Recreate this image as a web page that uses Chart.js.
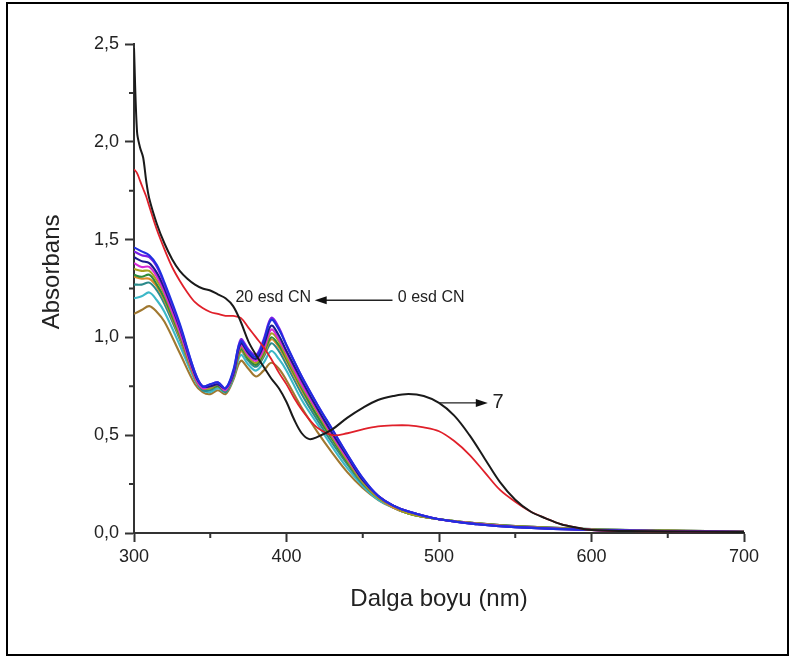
<!DOCTYPE html>
<html>
<head>
<meta charset="utf-8">
<script src="https://cdn.jsdelivr.net/npm/chart.js@4.4.0/dist/chart.umd.min.js"></script>
<style>
  html, body { margin: 0; padding: 0; background: #fff; }
  #wrap { position: relative; width: 795px; height: 657px; }
  #frame { position: absolute; left: 6px; top: 2px; width: 779px; height: 650px; border: 2px solid #000; pointer-events: none; }
  canvas { position: absolute; left: 0; top: 0; }
</style>
</head>
<body>
<div id="wrap">
  <canvas id="chart" width="795" height="657"></canvas>
  <div id="frame"></div>
</div>
<script>
// wavelengths (nm)
const wlBunch = [300, 305, 310, 315, 320, 330, 340, 345, 350, 355, 360, 365, 370, 375, 380, 385, 390, 395, 400, 410, 420, 430, 440, 450, 460, 470, 480, 500, 525, 550, 600, 650, 700];
const wlMain = [300, 302, 304, 306, 308, 310, 315, 320, 325, 330, 335, 340, 345, 350, 355, 360, 365, 370, 375, 380, 385, 390, 395, 400, 405, 410, 415, 420, 430, 440, 450, 460, 470, 480, 490, 500, 510, 520, 530, 540, 550, 560, 570, 580, 590, 600, 625, 650, 700];

// absorbance
const absBlack = [2.48, 2.05, 1.97, 1.92, 1.80, 1.71, 1.58, 1.48, 1.40, 1.34, 1.30, 1.27, 1.25, 1.24, 1.22, 1.20, 1.16, 1.08, 0.98, 0.91, 0.85, 0.79, 0.74, 0.67, 0.58, 0.51, 0.48, 0.49, 0.53, 0.59, 0.64, 0.68, 0.70, 0.71, 0.70, 0.665, 0.60, 0.50, 0.38, 0.26, 0.17, 0.11, 0.075, 0.045, 0.028, 0.015, 0.01, 0.008, 0.005];
const absRed = [1.86, 1.84, 1.80, 1.76, 1.72, 1.67, 1.55, 1.45, 1.36, 1.29, 1.23, 1.18, 1.15, 1.13, 1.12, 1.11, 1.11, 1.10, 1.05, 1.00, 0.95, 0.89, 0.82, 0.76, 0.69, 0.63, 0.58, 0.54, 0.50, 0.51, 0.53, 0.545, 0.55, 0.55, 0.54, 0.52, 0.47, 0.40, 0.31, 0.22, 0.16, 0.11, 0.075, 0.045, 0.028, 0.015, 0.01, 0.008, 0.005];

const absBlue = [1.46, 1.44, 1.42, 1.37, 1.28, 1.07, 0.82, 0.75, 0.76, 0.77, 0.74, 0.83, 0.98, 0.93, 0.90, 0.98, 1.09, 1.04, 0.96, 0.80, 0.66, 0.53, 0.40, 0.28, 0.19, 0.14, 0.11, 0.07, 0.045, 0.03, 0.015, 0.01, 0.005];
const absViolet = [1.44, 1.42, 1.41, 1.36, 1.27, 1.06, 0.82, 0.75, 0.76, 0.77, 0.74, 0.82, 0.99, 0.94, 0.91, 0.99, 1.10, 1.05, 0.96, 0.80, 0.66, 0.53, 0.40, 0.28, 0.19, 0.14, 0.11, 0.07, 0.045, 0.03, 0.015, 0.01, 0.005];
const absNavy = [1.41, 1.39, 1.38, 1.33, 1.25, 1.05, 0.81, 0.75, 0.75, 0.76, 0.74, 0.81, 0.97, 0.92, 0.89, 0.96, 1.06, 1.01, 0.93, 0.78, 0.64, 0.51, 0.39, 0.27, 0.19, 0.14, 0.11, 0.07, 0.045, 0.03, 0.015, 0.01, 0.006];
const absMagenta = [1.38, 1.36, 1.36, 1.31, 1.23, 1.03, 0.80, 0.74, 0.75, 0.76, 0.73, 0.81, 0.96, 0.91, 0.88, 0.94, 1.04, 0.99, 0.92, 0.76, 0.63, 0.50, 0.38, 0.27, 0.19, 0.14, 0.11, 0.07, 0.047, 0.032, 0.016, 0.01, 0.006];
const absOlive = [1.35, 1.34, 1.34, 1.29, 1.22, 1.02, 0.80, 0.74, 0.74, 0.76, 0.73, 0.81, 0.95, 0.90, 0.87, 0.93, 1.02, 0.98, 0.90, 0.75, 0.62, 0.49, 0.37, 0.26, 0.18, 0.14, 0.10, 0.07, 0.048, 0.033, 0.017, 0.011, 0.007];
const absGreen = [1.32, 1.31, 1.32, 1.27, 1.20, 1.01, 0.80, 0.74, 0.74, 0.75, 0.73, 0.80, 0.94, 0.89, 0.86, 0.92, 1.00, 0.96, 0.89, 0.74, 0.60, 0.48, 0.36, 0.26, 0.18, 0.14, 0.10, 0.07, 0.048, 0.034, 0.018, 0.011, 0.007];
const absOrange = [1.31, 1.30, 1.30, 1.26, 1.19, 1.00, 0.79, 0.74, 0.74, 0.75, 0.73, 0.80, 0.93, 0.89, 0.86, 0.91, 0.99, 0.95, 0.88, 0.73, 0.60, 0.48, 0.36, 0.26, 0.18, 0.13, 0.10, 0.07, 0.05, 0.035, 0.019, 0.012, 0.008];
const absDarkCyan = [1.27, 1.27, 1.28, 1.24, 1.17, 0.99, 0.79, 0.73, 0.73, 0.75, 0.72, 0.80, 0.93, 0.88, 0.85, 0.90, 0.97, 0.93, 0.86, 0.71, 0.58, 0.46, 0.35, 0.25, 0.18, 0.13, 0.10, 0.07, 0.05, 0.035, 0.019, 0.012, 0.008];
const absCyan = [1.20, 1.21, 1.23, 1.19, 1.13, 0.96, 0.78, 0.73, 0.72, 0.74, 0.72, 0.79, 0.91, 0.86, 0.83, 0.87, 0.93, 0.89, 0.83, 0.68, 0.56, 0.44, 0.33, 0.24, 0.17, 0.13, 0.10, 0.07, 0.05, 0.035, 0.02, 0.012, 0.008];
const absBrown = [1.12, 1.14, 1.16, 1.13, 1.08, 0.92, 0.76, 0.72, 0.71, 0.73, 0.71, 0.78, 0.88, 0.84, 0.80, 0.83, 0.87, 0.84, 0.78, 0.64, 0.52, 0.41, 0.31, 0.23, 0.17, 0.13, 0.10, 0.07, 0.05, 0.035, 0.02, 0.012, 0.008];

// axis ticks
const xTicks = [300, 400, 500, 600, 700];
const xMinorTicks = [350, 450, 550, 650];
const yTicks = [0, 0.5, 1.0, 1.5, 2.0, 2.5];
const yMinorTicks = [0.25, 0.75, 1.25, 1.75, 2.25];

const toPoints = (xs, ys) => ys.map((y, i) => ({ x: xs[i], y: y }));

const bunch = [
  [absBlue, "#1f2fe0"],
  [absViolet, "#7a1fe6"],
  [absNavy, "#1a1a8c"],
  [absMagenta, "#d62ad6"],
  [absOlive, "#a8a020"],
  [absGreen, "#2e8b3a"],
  [absOrange, "#d98a2b"],
  [absDarkCyan, "#2a8a8a"],
  [absCyan, "#3cb8c8"],
  [absBrown, "#a07830"],
];

const datasets = [
  { data: toPoints(wlMain, absBlack), borderColor: "#1a1a1a", borderWidth: 2 },
  { data: toPoints(wlMain, absRed), borderColor: "#e0202a", borderWidth: 1.8 },
].concat(bunch.map(([vals, color]) => ({
  data: toPoints(wlBunch, vals),
  borderColor: color,
  borderWidth: 2.1,
})));

const fontFamily = "'Liberation Sans', Arial, sans-serif";

// minor ticks, y title and annotation arrows
const extrasPlugin = {
  id: "extras",
  afterDraw(chart) {
    const { ctx } = chart;
    const xs = chart.scales.x;
    const ys = chart.scales.y;
    const x0 = xs.getPixelForValue(300);
    const y0 = ys.getPixelForValue(0);
    ctx.save();
    ctx.strokeStyle = "#333";
    ctx.lineWidth = 2;
    ctx.beginPath();
    xMinorTicks.forEach((v) => {
      const px = xs.getPixelForValue(v);
      ctx.moveTo(px, y0);
      ctx.lineTo(px, y0 + 5);
    });
    yMinorTicks.forEach((v) => {
      const py = ys.getPixelForValue(v);
      ctx.moveTo(x0, py);
      ctx.lineTo(x0 - 5, py);
    });
    ctx.stroke();

    // y axis title
    ctx.save();
    ctx.translate(52, ys.getPixelForValue(1.335));
    ctx.rotate(-Math.PI / 2);
    ctx.fillStyle = "#222";
    ctx.font = "24px " + fontFamily;
    ctx.textAlign = "center";
    ctx.textBaseline = "middle";
    ctx.fillText("Absorbans", 0, 0);
    ctx.restore();

    const arrow = (fromX, toX, yv) => {
      const a = xs.getPixelForValue(fromX);
      const b = xs.getPixelForValue(toX);
      const py = ys.getPixelForValue(yv);
      const dir = b > a ? 1 : -1;
      ctx.strokeStyle = "#222";
      ctx.lineWidth = 1.3;
      ctx.beginPath();
      ctx.moveTo(a, py);
      ctx.lineTo(b - dir * 6, py);
      ctx.stroke();
      ctx.fillStyle = "#111";
      ctx.beginPath();
      ctx.moveTo(b, py);
      ctx.lineTo(b - dir * 12, py - 4);
      ctx.lineTo(b - dir * 12, py + 4);
      ctx.closePath();
      ctx.fill();
    };

    ctx.fillStyle = "#222";
    ctx.font = "16px " + fontFamily;
    ctx.textBaseline = "middle";
    ctx.textAlign = "left";
    ctx.fillText("20 esd CN", xs.getPixelForValue(366.5), ys.getPixelForValue(1.205));
    ctx.fillText("0 esd CN", xs.getPixelForValue(473), ys.getPixelForValue(1.205));
    arrow(469.5, 418.5, 1.19);

    arrow(500, 532, 0.665);
    ctx.fillStyle = "#222";
    ctx.font = "20px " + fontFamily;
    ctx.fillText("7", xs.getPixelForValue(535), ys.getPixelForValue(0.665));
    ctx.restore();
  },
};

const axisFont = { family: fontFamily, size: 18 };
const titleFont = { family: fontFamily, size: 24 };

new Chart(document.getElementById("chart").getContext("2d"), {
  type: "line",
  data: { datasets: datasets },
  options: {
    responsive: false,
    animation: false,
    devicePixelRatio: 1,
    layout: { padding: { left: 38, top: 44, right: 51, bottom: 43 } },
    elements: {
      point: { radius: 0 },
      line: { tension: 0.35, fill: false },
    },
    plugins: { legend: { display: false }, tooltip: { enabled: false } },
    scales: {
      x: {
        type: "linear",
        min: 300,
        max: 700,
        afterBuildTicks: (s) => { s.ticks = xTicks.map((v) => ({ value: v })); },
        afterFit: (s) => { s.height = 81; },
        ticks: { font: axisFont, color: "#222", padding: 4, maxRotation: 0, autoSkip: false },
        grid: { drawOnChartArea: false, tickLength: 9, color: "#333", tickWidth: 2 },
        border: { color: "#333", width: 2 },
        title: { display: true, text: "Dalga boyu (nm)", font: titleFont, color: "#222", padding: 0 },
      },
      y: {
        min: 0,
        max: 2.5,
        afterBuildTicks: (s) => { s.ticks = yTicks.map((v) => ({ value: v })); },
        afterFit: (s) => { s.width = 96; },
        ticks: {
          font: axisFont,
          color: "#222",
          padding: 6,
          callback: (v) => v.toFixed(1).replace(".", ","),
        },
        grid: { drawOnChartArea: false, tickLength: 9, color: "#333", tickWidth: 2 },
        border: { color: "#333", width: 2 },
      },
    },
  },
  plugins: [extrasPlugin],
});
</script>
</body>
</html>
